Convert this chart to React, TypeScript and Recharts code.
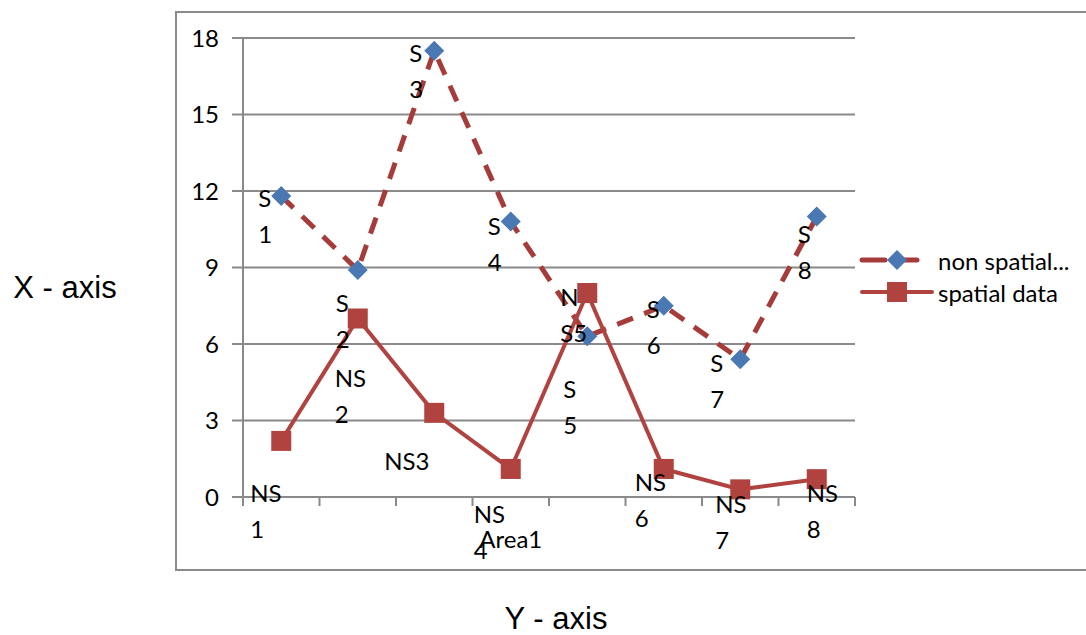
import React from "react";
import {
  CartesianGrid,
  Customized,
  LabelList,
  Line,
  LineChart,
  XAxis,
  YAxis,
} from "recharts";

document.body.style.margin = "0";

const areas = ["", "", "", "Area1", "", "", "", ""];
const nonSpatial = [11.8, 8.9, 17.5, 10.8, 6.3, 7.5, 5.4, 11.0];
const spatial = [2.2, 7.0, 3.3, 1.1, 8.0, 1.1, 0.3, 0.7];
const nonSpatialLabels = [["S", "1"], ["S", "2"], ["S", "3"], ["S", "4"], ["S", "5"], ["S", "6"], ["S", "7"], ["S", "8"]];
const spatialLabels = [["NS", "1"], ["NS", "2"], ["NS3"], ["NS", "4"], ["N", "S5"], ["NS", "6"], ["NS", "7"], ["NS", "8"]];
const yTicks = [0, 3, 6, 9, 12, 15, 18];

// where each data label sits relative to its point (left edge, first line middle)
const nonSpatialOffsets = [[-23, 1], [-22, 32], [-25, 1], [-23, 3], [-24, 52], [-17, 2], [-30, 3], [-19, 16]];
const spatialOffsets = [[-31, 51], [-23, 58], [-50, 47], [-37, 44], [-27, 3], [-29, 12], [-25, 14], [-10, 13]];

const data = areas.map((area, i) => ({
  area,
  nonSpatial: nonSpatial[i],
  spatial: spatial[i],
}));

const W = 1086;
const H = 635;
const PLOT_LEFT = 243;
const PLOT_RIGHT = 855;
const HALF_BAND = (PLOT_RIGHT - PLOT_LEFT) / areas.length / 2;

const GRID = "#8a8a8a";
const DASH_RED = "#a53c3a";
const SOLID_RED = "#b0433f";
const BLUE = "#4a78b3";
const FONT = "Lato, 'Open Sans', sans-serif";
const ARIAL = "'Liberation Sans', Arial, sans-serif";

const Diamond = (props: any) => {
  const { cx, cy } = props;
  if (cx == null || cy == null) return null;
  const r = 10;
  return <path d={`M${cx},${cy - r}L${cx + r},${cy}L${cx},${cy + r}L${cx - r},${cy}Z`} fill={BLUE} />;
};

const Square = (props: any) => {
  const { cx, cy } = props;
  if (cx == null || cy == null) return null;
  return <rect x={cx - 10} y={cy - 10} width={20} height={20} fill={SOLID_RED} />;
};

const makeLabel = (lines: string[][], offsets: number[][]) => (props: any) => {
  const { x, y, index } = props;
  const [dx, dy] = offsets[index];
  return (
    <text x={x + dx} y={y + dy} fontFamily={FONT} fontSize={24} fill="#000" dominantBaseline="central">
      {lines[index].map((t, k) => (
        <tspan key={k} x={x + dx} dy={k === 0 ? 0 : 36}>
          {t}
        </tspan>
      ))}
    </text>
  );
};

const AreaTick = (props: any) => {
  const { x, y, payload, index } = props;
  return (
    <g>
      <line x1={x - HALF_BAND} x2={x - HALF_BAND} y1={y - 9} y2={y} stroke={GRID} strokeWidth={2} />
      {index === areas.length - 1 && (
        <line x1={x + HALF_BAND} x2={x + HALF_BAND} y1={y - 9} y2={y} stroke={GRID} strokeWidth={2} />
      )}
      <text x={x} y={y + 42} textAnchor="middle" fontFamily={FONT} fontSize={24} fill="#000">
        {payload.value}
      </text>
    </g>
  );
};

const Decorations = () => (
  <g>
    <rect x={176} y={12} width={W} height={558} fill="none" stroke={GRID} strokeWidth={2} />
    <text x={65} y={287} textAnchor="middle" dominantBaseline="central" fontFamily={ARIAL} fontSize={31} fill="#000">
      X - axis
    </text>
    <text x={556} y={618} textAnchor="middle" dominantBaseline="central" fontFamily={ARIAL} fontSize={31} fill="#000">
      Y - axis
    </text>
  </g>
);

const LegendBox = () => (
  <g transform="translate(855, 245)">
    <line x1={7} x2={30} y1={15} y2={15} stroke={DASH_RED} strokeWidth={5} strokeLinecap="round" />
    <line x1={45} x2={62} y1={15} y2={15} stroke={DASH_RED} strokeWidth={5} strokeLinecap="round" />
    <Diamond cx={42} cy={15} />
    <text x={83} y={15} fontFamily={FONT} fontSize={24} dominantBaseline="central" fill="#000">
      non spatial...
    </text>
    <line x1={7} x2={77} y1={47} y2={47} stroke={SOLID_RED} strokeWidth={4} strokeLinecap="round" />
    <Square cx={42} cy={47} />
    <text x={83} y={47} fontFamily={FONT} fontSize={24} dominantBaseline="central" fill="#000">
      spatial data
    </text>
  </g>
);

export default function App() {
  return (
    <div style={{ width: W, height: H, background: "#fff" }}>
      <LineChart width={W} height={H} data={data} margin={{ top: 38, right: W - PLOT_RIGHT, bottom: 0, left: 0 }}>
        <Customized component={Decorations} />
        <CartesianGrid vertical={false} stroke={GRID} strokeWidth={2} />
        <XAxis
          dataKey="area"
          height={H - 497}
          padding={{ left: HALF_BAND, right: HALF_BAND }}
          axisLine={{ stroke: GRID, strokeWidth: 2 }}
          tickLine={{ stroke: "none" }}
          tickSize={9}
          tickMargin={0}
          interval={0}
          tick={<AreaTick />}
        />
        <YAxis
          width={PLOT_LEFT}
          domain={[0, 18]}
          ticks={yTicks}
          axisLine={{ stroke: GRID, strokeWidth: 2 }}
          tickLine={{ stroke: GRID, strokeWidth: 2 }}
          tickSize={11}
          tickMargin={13}
          tick={{ fontFamily: FONT, fontSize: 24, fill: "#000" }}
        />
        <Line
          dataKey="nonSpatial"
          name="non spatial data"
          stroke={DASH_RED}
          strokeWidth={5}
          strokeDasharray="17 12"
          dot={<Diamond />}
          activeDot={false}
          isAnimationActive={false}
        >
          <LabelList dataKey="nonSpatial" content={makeLabel(nonSpatialLabels, nonSpatialOffsets)} />
        </Line>
        <Line
          dataKey="spatial"
          name="spatial data"
          stroke={SOLID_RED}
          strokeWidth={4}
          dot={<Square />}
          activeDot={false}
          isAnimationActive={false}
        >
          <LabelList dataKey="spatial" content={makeLabel(spatialLabels, spatialOffsets)} />
        </Line>
        <Customized component={LegendBox} />
      </LineChart>
    </div>
  );
}
